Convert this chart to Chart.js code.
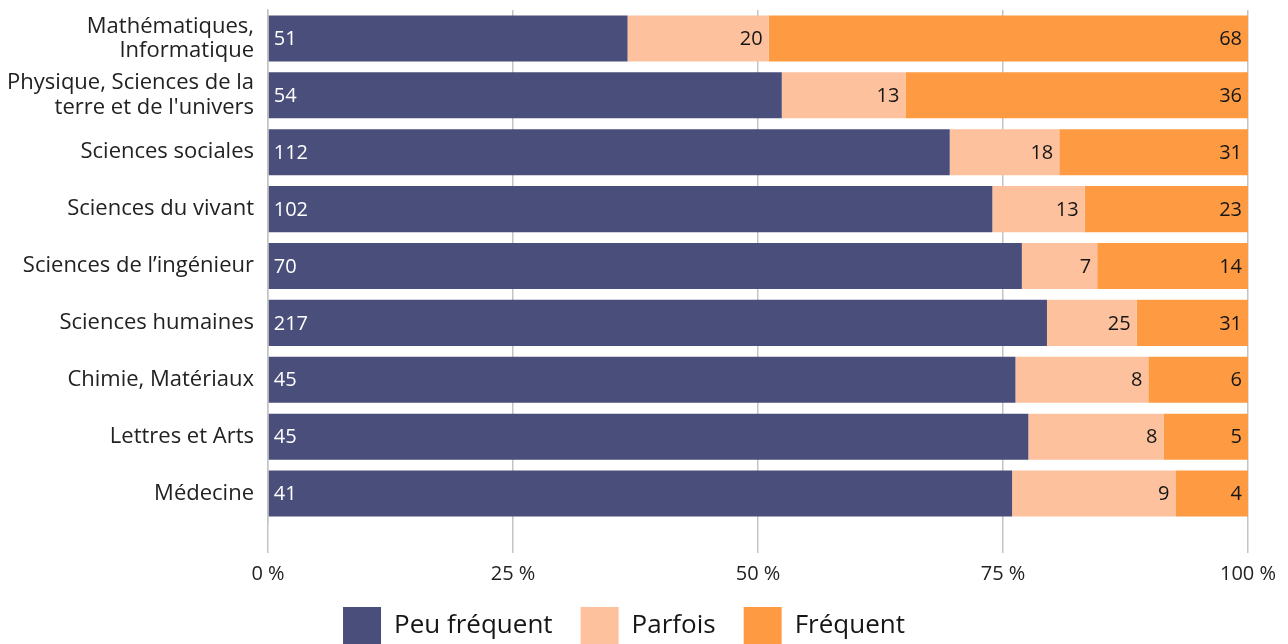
<!DOCTYPE html>
<html>
<head>
<meta charset="utf-8">
<script src="https://cdn.jsdelivr.net/npm/chart.js@4"></script>
<style>
html,body{margin:0;padding:0;background:#fff;overflow:hidden;}
#wrap{width:1288px;height:671px;position:relative;}
</style>
</head>
<body>
<div id="wrap"><canvas id="c"></canvas></div>
<script>
const categories = [
  ["Mathématiques,", "Informatique"],
  ["Physique, Sciences de la", "terre et de l'univers"],
  "Sciences sociales",
  "Sciences du vivant",
  "Sciences de l\u2019ingénieur",
  "Sciences humaines",
  "Chimie, Matériaux",
  "Lettres et Arts",
  "Médecine"
];
const seriesNames = ["Peu fréquent", "Parfois", "Fréquent"];
const peuFrequent = [51, 54, 112, 102, 70, 217, 45, 45, 41];
const parfois     = [20, 13, 18, 13, 7, 25, 8, 8, 9];
const frequent    = [68, 36, 31, 23, 14, 31, 6, 5, 4];
const xTicks = [0, 25, 50, 75, 100];
const colors = ["#4a4e7a", "#fdc19d", "#fe9a41"];

const counts = [peuFrequent, parfois, frequent];
const totals = categories.map((_, i) => peuFrequent[i] + parfois[i] + frequent[i]);
const pct = counts.map(arr => arr.map((v, i) => v / totals[i] * 100));

const FONT = "'Open Sans', 'Noto Sans', sans-serif";

const labelPlugin = {
  id: 'segLabels',
  afterLayout(chart) {
    if (chart.legend) { chart.legend.top -= 16; chart.legend.bottom -= 16; }
  },
  afterDraw(chart) {
    const ctx = chart.ctx;
    ctx.save();
    ctx.font = "20px " + FONT;
    ctx.textBaseline = 'middle';
    chart.data.datasets.forEach((ds, di) => {
      const meta = chart.getDatasetMeta(di);
      meta.data.forEach((bar, i) => {
        const txt = String(counts[di][i]);
        const left = Math.min(bar.x, bar.base);
        const right = Math.max(bar.x, bar.base);
        if (di === 0) {
          ctx.fillStyle = '#ffffff';
          ctx.textAlign = 'left';
          ctx.fillText(txt, left + 5, bar.y + 1);
        } else {
          ctx.fillStyle = '#161616';
          ctx.textAlign = 'right';
          ctx.fillText(txt, right - 6, bar.y + 1);
        }
      });
    });
    ctx.restore();
  }
};

new Chart(document.getElementById('c'), {
  type: 'bar',
  data: {
    labels: categories,
    datasets: seriesNames.map((n, k) => ({
      label: n,
      data: pct[k],
      backgroundColor: colors[k],
      borderWidth: 0,
      barPercentage: 0.81,
      categoryPercentage: 1.0
    }))
  },
  options: {
    indexAxis: 'y',
    responsive: true,
    maintainAspectRatio: false,
    animation: false,
    layout: { padding: { left: 0, right: 40, top: 10, bottom: 0 } },
    plugins: {
      legend: {
        position: 'bottom',
        labels: {
          boxWidth: 38, boxHeight: 38,
          font: { family: FONT, size: 26 },
          color: '#161616',
          padding: 28
        }
      },
      tooltip: { enabled: false }
    },
    scales: {
      x: {
        stacked: true,
        min: 0, max: 100,
        z: 1,
        afterBuildTicks(axis) { axis.ticks = xTicks.map(v => ({ value: v })); },
        ticks: {
          callback: v => v + " %",
          font: { family: FONT, size: 20 },
          color: '#222',
          padding: 9
        },
        grid: { color: '#c4c4c4', lineWidth: 1.5, tickLength: 31, drawTicks: true },
        border: { display: false }
      },
      y: {
        stacked: true,
        afterFit(axis) { axis.width = 268; axis.paddingTop = 0; axis.paddingBottom = 0; },
        ticks: {
          font: { family: FONT, size: 22, lineHeight: 1.1 },
          color: '#222',
          padding: 14
        },
        grid: { display: false, drawTicks: false },
        border: { display: true, color: '#c4c4c4', width: 1.5 }
      }
    }
  },
  plugins: [labelPlugin]
});
</script>
</body>
</html>
